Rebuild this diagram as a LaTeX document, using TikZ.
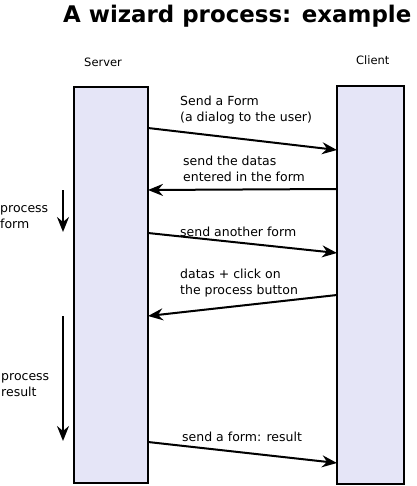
\documentclass[tikz,border=0pt]{standalone}
\usepackage{fontspec}
\setmainfont{DejaVu Sans}
\usetikzlibrary{arrows.meta,calc}
\definecolor{boxfill}{RGB}{229,229,247}
\begin{document}
\begin{tikzpicture}[x=1pt,y=-1pt,
  lifeline/.style={draw=black, fill=boxfill, line width=2pt, inner sep=0pt, outer sep=0pt},
  msg/.style={line width=2pt, -{Stealth[length=15pt,width=12pt,inset=5pt]}},
  lbl/.style={anchor=base west, inner sep=0pt, align=left, font=\fontsize{12.5}{16}\selectfont},
  hdr/.style={anchor=base west, inner sep=0pt, font=\fontsize{11.5}{13}\selectfont}]
\useasboundingbox (0,0) rectangle (416,486);
\node[anchor=base west, inner sep=0pt, font=\fontsize{22.9}{26}\selectfont\bfseries] (title) at (63,23) {A wizard process: example};
\node[hdr] (srvlbl) at (84,67) {Server};
\node[hdr] (clilbl) at (356,65) {Client};
\node[lifeline, minimum width=74pt, minimum height=396pt] (srv) at (111,285) {};
\node[lifeline, minimum width=67pt, minimum height=398pt] (cli) at (370.5,285) {};
% messages
\draw[msg] ($(srv.north east)+(0,41)$) -- ($(cli.north west)+(0,64)$);
\draw[msg] ($(cli.north west)+(0,103)$) -- ($(srv.north east)+(0,103)$);
\draw[msg] ($(srv.north east)+(0,146)$) -- ($(cli.north west)+(0,167)$);
\draw[msg] ($(cli.north west)+(0,209)$) -- ($(srv.north east)+(0,229)$);
\draw[msg] ($(srv.north east)+(0,355)$) -- ($(cli.north west)+(0,377)$);
\node[lbl] (m1) at (180,122) {Send a Form\\(a dialog to the user)};
\node[lbl] (m2) at (183,182) {send the datas\\entered in the form};
\node[lbl] (m3) at (180,236) {send another form};
\node[lbl] (m4) at (180,294) {datas + click on\\the process button};
\node[lbl] (m5) at (182,441) {send a form: result};
% process arrows
\coordinate (pfa) at (63,190);
\coordinate (pfb) at (63,232);
\coordinate (pra) at (63,316);
\coordinate (prb) at (63,441);
\draw[msg] (pfa) -- (pfb);
\draw[msg] (pra) -- (prb);
\node[lbl] (pf) at (0,228) {process\\form};
\node[lbl] (pr) at (1,396) {process\\result};
\end{tikzpicture}
\end{document}
